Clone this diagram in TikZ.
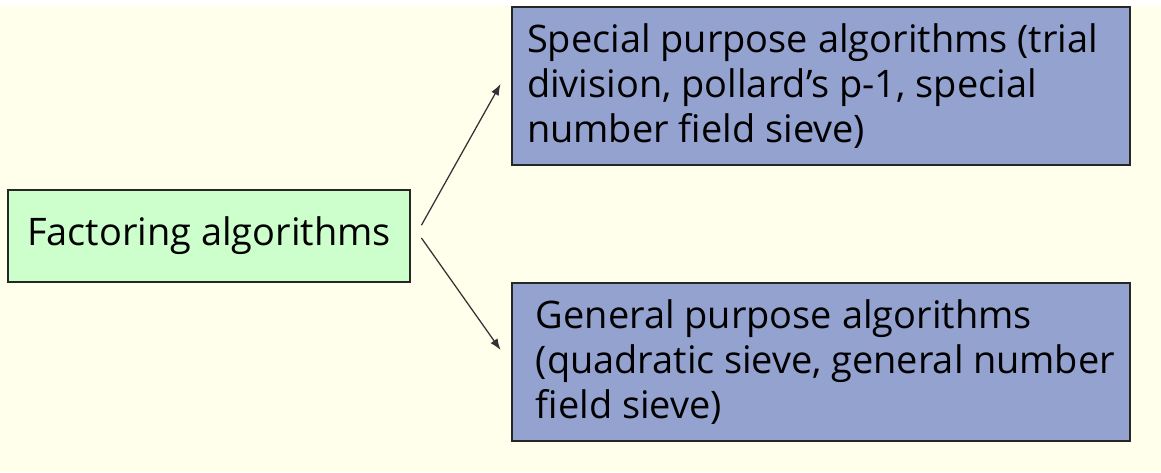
\documentclass[tikz,border=0pt]{standalone}
\usepackage{fontspec}
\setmainfont{Open Sans}
\usetikzlibrary{arrows.meta}

\definecolor{paper}{RGB}{255,255,236}
\definecolor{rootgreen}{RGB}{204,255,204}
\definecolor{leafblue}{RGB}{148,162,208}

\tikzset{
    box/.style={draw=black!85, line width=0.9pt, inner sep=0pt, font=\fontsize{27}{32}\selectfont},
    root/.style={box, fill=rootgreen, minimum width=10.05cm, minimum height=2.3cm},
    leaf/.style={box, fill=leafblue, minimum width=15.45cm, minimum height=3.95cm,
        text width=14.7cm, align=flush left},
    branch/.style={-{Latex[length=8pt, width=6pt]}, draw=black!80, line width=0.9pt}
}
\newcommand{\ind}{\hspace*{0.22cm}}

\begin{document}
\begin{tikzpicture}
    % Background
    \fill[paper] (0,0) rectangle (29.025,11.64);
    \fill[white] (0,11.64) rectangle (29.025,11.8);
    \useasboundingbox (0,0) rectangle (29.025,11.8);

    % Boxes
    \node[root] (factoring) at (5.225, 5.9) {Factoring algorithms};
    \node[leaf] (special) at (20.525, 9.65) {Special purpose algorithms (trial\\
        division, pollard's p-1, special\\ number field sieve)};
    \node[leaf] (general) at (20.525, 2.75) {\ind General purpose algorithms\\
        \ind(quadratic sieve, general number\\ \ind field sieve)};

    % Branches
    \draw[branch] ([xshift=0.27cm, yshift=0.27cm]factoring.east) -- ([xshift=-0.27cm, yshift=0.05cm]special.west);
    \draw[branch] ([xshift=0.27cm, yshift=-0.05cm]factoring.east) -- ([xshift=-0.27cm, yshift=0.3cm]general.west);
\end{tikzpicture}
\end{document}
